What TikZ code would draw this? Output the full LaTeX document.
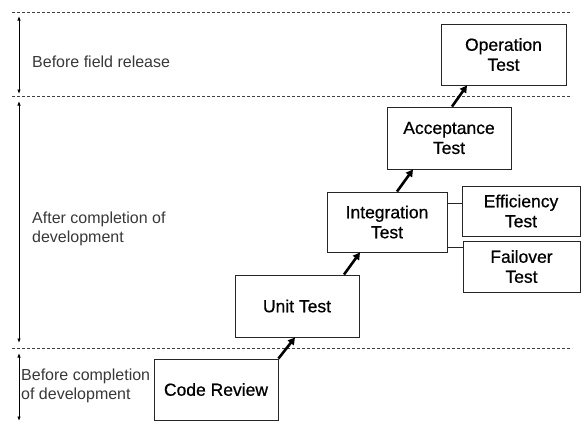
\documentclass[tikz,border=0pt]{standalone}
\usepackage{fontspec}
\setmainfont{Liberation Sans}
\newfontfamily\boxfont[FakeBold=0.6]{Liberation Sans}
\usetikzlibrary{arrows.meta,calc}
\begin{document}
\begin{tikzpicture}[x=1pt,y=-1pt,
  box/.style={draw=black!85,line width=0.9pt,align=center,inner sep=0pt,
    font=\boxfont\fontsize{17.5}{20}\selectfont},
  flow/.style={line width=2.6pt,-{Triangle[length=7pt,width=7.5pt]}},
  side/.style={line width=0.8pt,black!85},
  span/.style={line width=0.9pt,{Latex[length=4.5pt,width=3.5pt]}-{Latex[length=4.5pt,width=3.5pt]}},
  lbl/.style={anchor=west,align=left,text=black!78,font=\fontsize{16}{19}\selectfont,inner sep=0pt},
  sep/.style={line width=0.7pt,black!75,dash pattern=on 3pt off 2pt}]
\useasboundingbox (0,0) rectangle (581,423);
% separators
\coordinate (s1a) at (12,12);  \coordinate (s1b) at (572,12);
\coordinate (s2a) at (12,96);  \coordinate (s2b) at (572,96);
\coordinate (s3a) at (12,348); \coordinate (s3b) at (572,348);
\draw[sep] (s1a) -- (s1b);
\draw[sep] (s2a) -- (s2b);
\draw[sep] (s3a) -- (s3b);
% span arrows
\coordinate (a1t) at (19,16);  \coordinate (a1b) at (19,94);
\coordinate (a2t) at (19,101); \coordinate (a2b) at (19,343);
\coordinate (a3t) at (19,353); \coordinate (a3b) at (19,421);
\draw[span] (a1t) -- (a1b);
\draw[span] (a2t) -- (a2b);
\draw[span] (a3t) -- (a3b);
% labels
\node[lbl] (l1) at (32,62) {Before field release};
\node[lbl] (l2) at (32,229) {After completion of\\development};
\node[lbl] (l3) at (21,386) {Before completion\\of development};
% boxes
\node[box,minimum width=124pt,minimum height=61pt] (cr) at (216,389.5) {Code Review};
\node[box,minimum width=124pt,minimum height=62pt] (ut) at (297,306) {Unit Test};
\node[box,minimum width=120pt,minimum height=60pt] (it) at (387,222) {Integration\\Test};
\node[box,minimum width=118pt,minimum height=50pt] (ef) at (521,211) {Efficiency\\Test};
\node[box,minimum width=117pt,minimum height=51pt] (fo) at (521.5,266.5) {Failover\\Test};
\node[box,minimum width=124pt,minimum height=62pt] (at) at (449,138) {Acceptance\\Test};
\node[box,minimum width=125pt,minimum height=61pt] (ot) at (503.5,54.5) {Operation\\Test};
% flow arrows
\draw[flow] (cr.north east) -- ([xshift=-2pt]ut.south);
\draw[flow] ([xshift=47pt]ut.north) -- ([xshift=-27pt]it.south);
\draw[flow] ([xshift=10pt]it.north) -- ([xshift=-36pt]at.south);
\draw[flow] ([xshift=3pt]at.north) -- ([xshift=-36.5pt]ot.south);
% side links
\draw[side] ([yshift=19pt]it.east) -- ([yshift=19pt]it.east -| ef.west);
\draw[side] ([yshift=-25pt]it.east) -- ([yshift=-25pt]it.east -| fo.west);
\end{tikzpicture}
\end{document}
